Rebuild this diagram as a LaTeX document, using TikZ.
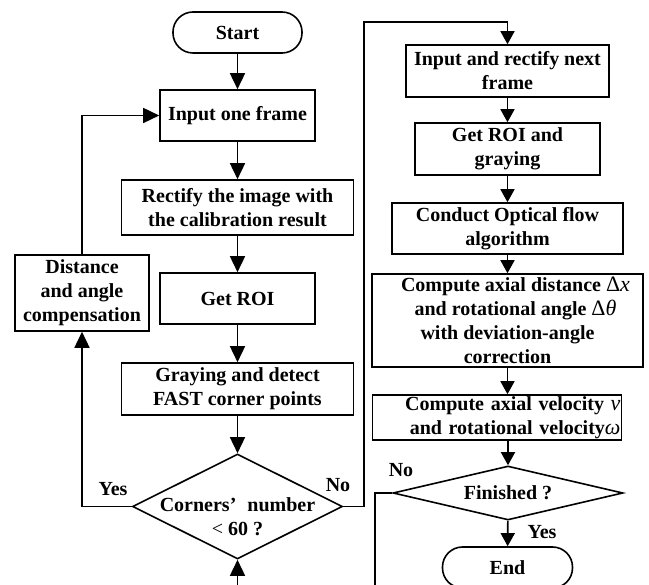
\documentclass[tikz,border=0pt]{standalone}
\usepackage{fontspec}
\setmainfont{Liberation Serif}
\usetikzlibrary{arrows.meta,shapes.geometric}
\newcommand{\mth}[1]{{\mdseries\fontsize{22}{24}\selectfont #1}}
\begin{document}
\begin{tikzpicture}[x=1pt,y=-1pt,
  every node/.style={font=\bfseries\fontsize{20}{24}\selectfont},
  box/.style={draw, line width=1.6pt, inner sep=0pt, align=center},
  term/.style={box, rounded corners=20pt},
  dec/.style={draw, diamond, line width=1.6pt, inner sep=0pt},
  ln/.style={line width=1.6pt},
  arr/.style={ln, -{Triangle[width=15pt,length=16pt]}},
  arrs/.style={ln, -{Triangle[width=14pt,length=13pt]}},
  lbl/.style={inner sep=0pt}]
\useasboundingbox (0,0) rectangle (649,585);
\clip (0,0) rectangle (649,585);
% left column
\node[term, minimum width=129pt, minimum height=41pt] (start) at (237.5,32.5) {Start};
\node[box, minimum width=155pt, minimum height=51pt] (in1) at (237.5,115.5) {Input one frame};
\node[box, minimum width=232pt, minimum height=55pt] (rect) at (237.5,207.5) {Rectify the image with\\the calibration result};
\node[box, minimum width=155pt, minimum height=51pt] (roi) at (237.5,298.5) {Get ROI};
\node[box, minimum width=232pt, minimum height=52pt] (gray) at (237.5,389) {Graying and detect\\FAST corner points};
\node[dec, minimum width=210pt, minimum height=105pt] (d1) at (237.5,506.5) {};
\node[align=center, inner sep=0pt] (d1t) at (237.5,517) {Corners’\hspace{0.55em}number\\{\mdseries <} 60 ?};
\node[box, minimum width=134pt, minimum height=76pt] (comp) at (82,293) {Distance\\and angle\\compensation};
% right column
\node[box, minimum width=203pt, minimum height=52pt] (in2) at (507.5,71) {Input and rectify next\\frame};
\node[box, minimum width=185pt, minimum height=52pt] (roi2) at (507.5,149) {Get ROI and\\graying};
\node[box, minimum width=231pt, minimum height=51pt] (flow) at (507.5,228.5) {Conduct Optical flow\\algorithm};
\node[box, minimum width=271pt, minimum height=93pt] (dist) at (507.5,320.5) {\hspace*{16pt}Compute axial distance \mth{Δ\textit{x}}\\\hspace*{16pt}and rotational angle \mth{Δ\textit{θ}}\\with deviation-angle\\correction};
\node[box, minimum width=249pt, minimum height=45pt, text width=247pt, align=right] (vel) at (497,417.5) {Compute axial velocity \mth{\textit{ν}}\\and rotational velocity\mth{\textit{ω}}};
\node[dec, minimum width=230pt, minimum height=54pt] (d2) at (508,493) {};
\node[inner sep=0pt] (d2t) at (508,493) {Finished ?};
\node[term, minimum width=130pt, minimum height=41pt] (end) at (507.5,567.5) {End};
% labels
\node[lbl] (yes1) at (113,489) {Yes};
\node[lbl] (no1) at (338,485) {No};
\node[lbl] (no2) at (401,470) {No};
\node[lbl] (yes2) at (542,532) {Yes};
% helper coordinates
\coordinate (top) at (364,22);
\coordinate (b1) at (375,592);
\coordinate (b2) at (237.5,592);
% left edges
\draw[arr] (start) -- (in1);
\draw[arr] (in1) -- (rect);
\draw[arr] (rect) -- (roi);
\draw[arr] (roi) -- (gray);
\draw[arr] (gray) -- (d1);
\draw[arr] (d1.west) -| (comp.south);
\draw[arr] (comp.north) |- (in1.west);
\draw[arrs] (d1.east) -| (top) -| (in2.north);
\draw[arr] (b2) -- (d1.south);
% right edges
\draw[arrs] (in2) -- (roi2);
\draw[arrs] (roi2) -- (flow);
\draw[arrs] (flow) -- (dist);
\draw[arrs] (dist.south) -- (dist.south |- vel.north);
\draw[arrs] (vel.south -| d2.north) -- (d2.north);
\draw[arrs] (d2) -- (end);
\draw[ln] (d2.west) -| (b1);
\end{tikzpicture}
\end{document}
